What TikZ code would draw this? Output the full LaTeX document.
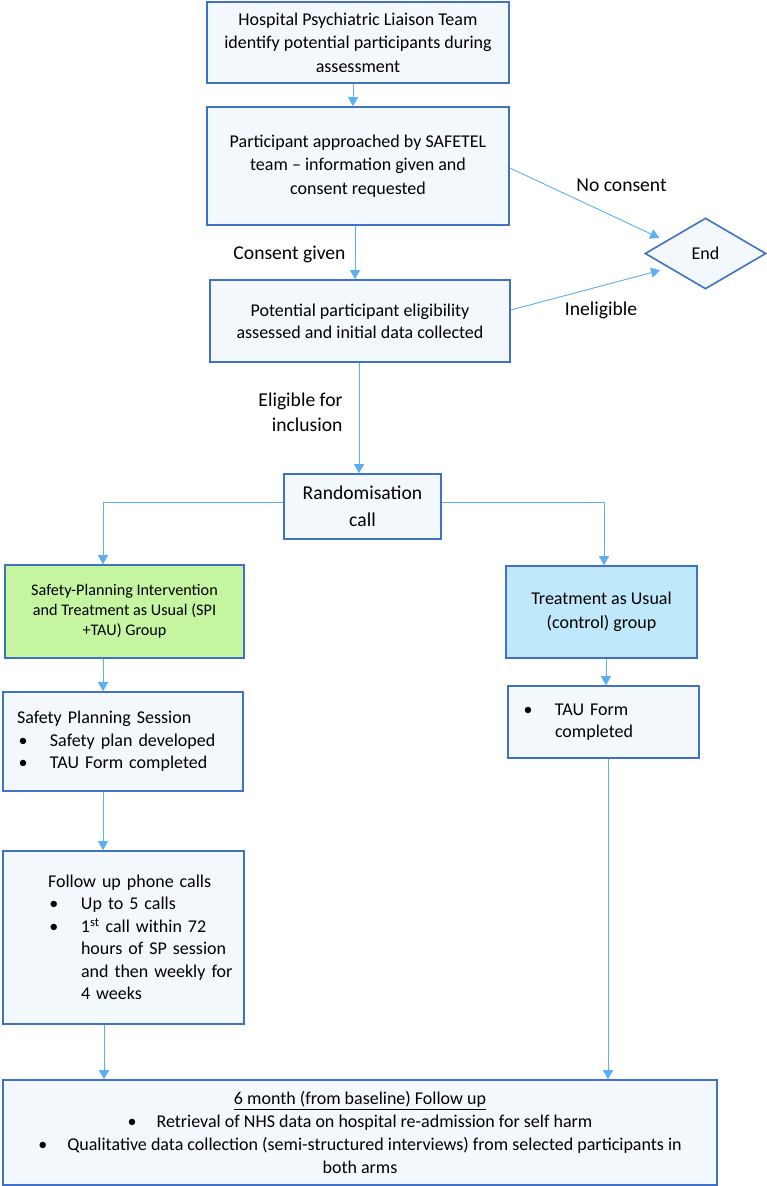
\documentclass[tikz,border=0pt]{standalone}
\usepackage{fontspec}
\setmainfont{Carlito}
\usepackage{xcolor}
\usepackage{tikz}
\usetikzlibrary{arrows.meta,calc,shapes,positioning}

\definecolor{boxline}{RGB}{65,113,196}
\definecolor{boxfill}{RGB}{243,248,252}
\definecolor{arrowblue}{RGB}{91,176,245}
\definecolor{spigreen}{RGB}{198,245,162}
\definecolor{taublue}{RGB}{192,232,251}

\newcommand{\listdot}{\makebox[33pt][l]{\hspace{1.5pt}\textbullet}}
\newcommand{\listgap}{\hspace*{33pt}}

\begin{document}
\begin{tikzpicture}[x=1pt,y=-1pt,>={Triangle[width=10pt,length=9pt]},
  box/.style={draw=boxline,fill=boxfill,line width=1.6pt,inner sep=0pt,align=center,
    font=\fontsize{18}{23.5}\selectfont},
  listbox/.style={box,align=left,inner xsep=14pt,inner ysep=0pt,font=\fontsize{18}{22.5}\selectfont},
  conn/.style={color=arrowblue,line width=0.9pt},
  lab/.style={font=\fontsize{19.6}{24.5}\selectfont}]

\useasboundingbox (0,0) rectangle (767,1186);

\node[box,minimum width=302pt,minimum height=81pt] (hosp) at (358,42.5)
  {Hospital Psychiatric Liaison Team\\identify potential participants during\\assessment};
\node[box,minimum width=302pt,minimum height=118pt] (approach) at (358,166)
  {Participant approached by SAFETEL\\team -- information given and\\consent requested};
\node[box,minimum width=300pt,minimum height=82pt,font=\fontsize{18}{22}\selectfont] (eligib) at (360,321)
  {Potential participant eligibility\\assessed and initial data collected};
\node[box,diamond,minimum width=121pt,minimum height=71pt] (endd) at (705.5,253.5) {End};
\node[box,minimum width=157pt,minimum height=65pt,font=\fontsize{19.6}{27}\selectfont] (rand) at (362.5,506.5)
  {Randomisation\\call};
\node[box,fill=spigreen,minimum width=239pt,minimum height=93pt,font=\fontsize{16.2}{20}\selectfont] (spi) at (124.5,611.5)
  {Safety-Planning Intervention\\and Treatment as Usual (SPI\\+TAU) Group};
\node[box,fill=taublue,minimum width=191pt,minimum height=92pt] (tau) at (601.5,612)
  {Treatment as Usual\\(control) group};
\node[listbox,text width=212pt,minimum height=99pt] (session) at (123,741.5)
  {Safety Planning Session\\ \listdot Safety plan developed\\ \listdot TAU Form completed};
\node[listbox,text width=163pt,minimum height=72pt] (tauform) at (603.5,722)
  {\listdot TAU Form\\ \listgap completed};
\node[listbox,inner xsep=3pt,text width=235pt,minimum height=173pt] (followup) at (123.5,937.5)
  {\leftskip=42pt Follow up phone calls\\ \listdot Up to 5 calls\\ \listdot 1\textsuperscript{st} call within 72\\
   \listgap hours of SP session\\ \listgap and then weekly for\\ \listgap 4 weeks\par};
\node[box,minimum width=714pt,minimum height=105pt,font=\fontsize{18}{23}\selectfont] (sixmonth) at (360,1132.5)
  {\underline{6 month (from baseline) Follow up}\\
   \makebox[29pt][l]{\textbullet}Retrieval of NHS data on hospital re-admission for self harm\\
   \makebox[29pt][l]{\textbullet}Qualitative data collection (semi-structured interviews) from selected participants in\\
   both arms};

\node[lab] (noconsent) at (621.5,185) {No consent};
\node[lab] (consentgiven) at (289.5,254) {Consent given};
\node[lab] (ineligible) at (601,310) {Ineligible};
\node[lab,align=right,anchor=east] (eligiblefor) at (346,412.5) {Eligible for\\inclusion};

\path[conn]
([xshift=-5pt]hosp.south) edge[->] ([xshift=-5pt]approach.north)
([xshift=-3pt]approach.south) edge[->] ([xshift=-5pt]eligib.north)
([xshift=-1pt]eligib.south) edge[->] ([xshift=-3.5pt]rand.north)
([xshift=-21.5pt]spi.south) edge[->] ([xshift=-20pt]session.north)
([xshift=4.5pt]tau.south) edge[->] ([xshift=2.5pt]tauform.north)
([xshift=-20pt]session.south) edge[->] ([xshift=-20.5pt]followup.north)
([xshift=-19.5pt]followup.south) edge[->] ([xshift=-19.5pt]followup.south |- sixmonth.north)
([xshift=4.5pt]tauform.south) edge[->] ([xshift=4.5pt]tauform.south |- sixmonth.north);

% the two ways out to End stop short of the diamond
\draw[conn,->,shorten >=7pt] ([yshift=-2pt]approach.east) -- ($(endd.west)!0.35!(endd.north)$);
\draw[conn,->,shorten >=9pt] ([yshift=11pt]eligib.east) -- ($(endd.west)!0.4!(endd.south)$);

\draw[conn,->] ([yshift=4.5pt]rand.west) -| ([xshift=-21.5pt]spi.north);
\draw[conn,->] ([yshift=4.5pt]rand.east) -| ([xshift=2.5pt]tau.north);
\end{tikzpicture}
\end{document}
